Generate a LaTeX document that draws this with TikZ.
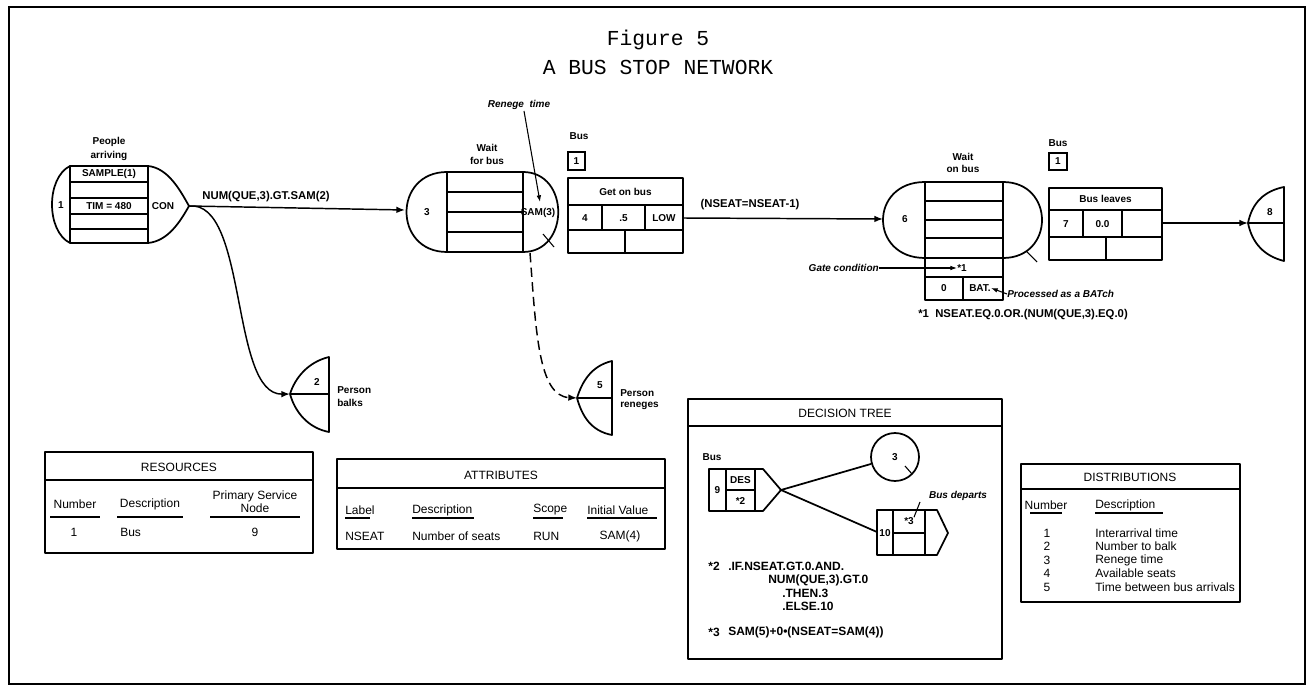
\documentclass[tikz,border=0pt]{standalone}
\usepackage{fontspec}
\setmainfont{Liberation Sans}
\newfontfamily\typefont{Liberation Mono}
\usetikzlibrary{arrows.meta}

\begin{document}
\begin{tikzpicture}[x=0.75pt,y=0.75pt,yscale=-1,xscale=1,
  every node/.style={inner sep=0pt},
  lbl/.style={font=\fontsize{7.5}{9}\selectfont\bfseries},
  cond/.style={font=\fontsize{8.5}{10}\selectfont\bfseries},
  note/.style={font=\fontsize{7.5}{9}\selectfont\bfseries\itshape},
  code/.style={font=\fontsize{9}{10}\selectfont\bfseries},
  cell/.style={font=\fontsize{9}{10}\selectfont},
  dist/.style={font=\fontsize{9}{10}\selectfont},
  head/.style={font=\fontsize{9}{10}\selectfont},
  outline/.style={line width=1.3pt,line join=round},
  flow/.style={line width=1.1pt,-{Latex[length=6.5pt,width=5pt]}},
  uline/.style={line width=0.9pt}
]
\useasboundingbox (0,0) rectangle (1316,691);
\fill [white] (0,0) rectangle (1316,691);
\draw [line width=0.8pt] (9,7) rectangle (1305,684);

% title
\node [font=\typefont\fontsize{16}{19}\selectfont] (figno) at (658,40) {Figure 5};
\node [font=\typefont\fontsize{16}{19}\selectfont] (figtitle) at (658,67) {A BUS STOP NETWORK};

% create node 1
\draw [outline] (70,166) rectangle (148,243);
\draw [outline] (70,166) .. controls (46,178) and (46,231) .. (70,243);
\draw [outline] (148,166) .. controls (168,168) and (180,190) .. (189,206) .. controls (180,222) and (168,241) .. (148,243);
\draw [thick] (70,182) -- (148,182);
\draw [thick] (70,198) -- (148,198);
\draw [thick] (70,214) -- (148,214);
\draw [thick] (70,229) -- (148,229);
\coordinate (c1tip) at (189,206);
\node [lbl] (c1ppl) at (109,142) {People};
\node [lbl] (c1arr) at (109,156) {arriving};
\node [lbl] (c1num) at (61,205) {1};
\node [lbl] (c1samp) at (109,174) {SAMPLE(1)};
\node [lbl] (c1tim) at (109,206) {TIM = 480};
\node [lbl] (c1con) at (163,206) {CON};

% queue node 3
\draw [outline] (447,172) .. controls (393,172) and (393,252) .. (447,252);
\draw [outline] (447,172) rectangle (523,252);
\draw [outline] (523,172) .. controls (570,172) and (570,252) .. (523,252);
\draw [thick] (447,192) -- (523,192);
\draw [thick] (447,212) -- (523,212);
\draw [thick] (447,232) -- (523,232);
\draw [thick] (543,234) -- (554,247);
\coordinate (q3in) at (405,210);
\coordinate (q3out) at (530,253);
\node [lbl] (q3wait) at (487,148) {Wait};
\node [lbl] (q3for) at (487,161) {for bus};
\node [lbl] (q3num) at (427,212) {3};
\node [lbl] (q3sam) at (538,213) {SAM(3)};
\node [note] (renege) at (519,105) {Renege\ \ time};
\coordinate (renegetip) at (540,202);
\draw [line width=0.8pt,-{Latex[length=5pt,width=3.5pt]}] (524,111) -- (renegetip);

% bus resource and activity 4
\node [lbl] (bus1) at (579,136) {Bus};
\node [lbl,draw,line width=1.3pt,minimum width=13pt,minimum height=13pt] (res1) at (576.5,161) {1};
\draw [outline] (568,178) rectangle (683,253);
\draw [thick] (568,205) -- (683,205);
\draw [thick] (568,230) -- (683,230);
\draw [thick] (602,205) -- (602,230);
\draw [thick] (645,205) -- (645,230);
\draw [thick] (625,230) -- (625,253);
\node [lbl] (act4name) at (625.5,192) {Get on bus};
\node [lbl] (act4num) at (585,218) {4};
\node [lbl] (act4dur) at (623.5,218) {.5};
\node [lbl] (act4rule) at (664,218) {LOW};
\coordinate (act4out) at (683,218);

% queue node 6
\draw [outline] (925,182) .. controls (869,182) and (869,258) .. (925,258);
\draw [outline] (925,182) rectangle (1003,258);
\draw [outline] (1003,182) .. controls (1055,182) and (1055,258) .. (1003,258);
\draw [thick] (925,201) -- (1003,201);
\draw [thick] (925,220) -- (1003,220);
\draw [thick] (925,238) -- (1003,238);
\draw [outline] (925,258) rectangle (1003,300);
\draw [thick] (925,277) -- (1003,277);
\draw [thick] (963,277) -- (963,300);
\draw [thick] (1026,251) -- (1037,262);
\coordinate (q6in) at (883,219);
\node [lbl] (q6wait) at (963,157) {Wait};
\node [lbl] (q6on) at (963,169) {on bus};
\node [lbl] (q6num) at (905,219) {6};
\node [lbl] (gatestar) at (962,268) {*1};
\node [lbl] (q6zero) at (944,288) {0};
\node [lbl] (q6bat) at (980,288) {BAT.};
\node [note,anchor=east] (gate) at (879,268) {Gate condition};
\node [note,anchor=west] (batch) at (1007,294) {Processed as a BATch};
\draw [line width=0.8pt,-{Latex[length=5pt,width=3.5pt]}] (gate.east) -- (gatestar.west);
\draw [line width=0.8pt,-{Latex[length=5pt,width=3.5pt]}] (batch.west) -- (q6bat.east);
\node [cond,anchor=west] (gatenote) at (918,315) {*1\ \ NSEAT.EQ.0.OR.(NUM(QUE,3).EQ.0)};

% bus resource and activity 7
\node [lbl] (bus2) at (1058,143) {Bus};
\node [lbl,draw,line width=1.3pt,minimum width=13pt,minimum height=13pt] (res2) at (1058,161.5) {1};
\draw [outline] (1049,188) rectangle (1162,260);
\draw [thick] (1049,210) -- (1162,210);
\draw [thick] (1049,237) -- (1162,237);
\draw [thick] (1083,210) -- (1083,237);
\draw [thick] (1122,210) -- (1122,237);
\draw [thick] (1106,237) -- (1106,260);
\node [lbl] (act7name) at (1105.5,199) {Bus leaves};
\node [lbl] (act7num) at (1066,224) {7};
\node [lbl] (act7dur) at (1102.5,224) {0.0};
\coordinate (act7out) at (1162,223);

% sink nodes 2, 5 and 8
\coordinate (s2tip) at (290,394);
\draw [outline] (329,357) .. controls (308,362) and (295,378) .. (s2tip) .. controls (295,412) and (308,428) .. (329,432) -- cycle;
\draw [thick] (s2tip) -- (329,394);
\node [lbl] (s2num) at (317,382) {2};
\node [lbl,anchor=west] (s2a) at (337,390) {Person};
\node [lbl,anchor=west] (s2b) at (337,403) {balks};

\coordinate (s5tip) at (577,398);
\draw [outline] (612,361) .. controls (591,366) and (582,382) .. (s5tip) .. controls (582,416) and (591,431) .. (612,435) -- cycle;
\draw [thick] (s5tip) -- (612,398);
\node [lbl] (s5num) at (600,385) {5};
\node [lbl,anchor=west] (s5a) at (620,393) {Person};
\node [lbl,anchor=west] (s5b) at (620,406) {reneges};

\coordinate (s8tip) at (1248,223);
\draw [outline] (1284,187) .. controls (1264,191) and (1252,203) .. (s8tip) .. controls (1252,243) and (1264,256) .. (1284,261) -- cycle;
\draw [thick] (s8tip) -- (1284,223);
\node [lbl] (s8num) at (1270,212) {8};

% branches
\draw [flow] (c1tip) -- (q3in);
\node [cond] (balk) at (266,197) {NUM(QUE,3).GT.SAM(2)};
\draw [flow] (c1tip) .. controls (248,200) and (230,395) .. (s2tip);
\draw [flow,dash pattern=on 7pt off 4pt] (q3out) .. controls (536,330) and (538,396) .. (s5tip);
\draw [flow] (act4out) -- (q6in);
\node [cond] (seats) at (750,205) {(NSEAT=NSEAT-1)};
\draw [flow] (act7out) -- (s8tip);

% resources
\draw [outline] (45,452) rectangle (313,553);
\draw [outline] (45,480) -- (313,480);
\node [head] (reshead) at (179,467) {RESOURCES};
\node [cell] (resnum) at (75,504) {Number};
\node [cell] (resdesc) at (150,504) {Description};
\node [cell] (resprim) at (255,496) {Primary Service};
\node [cell] (resnode) at (255,508) {Node};
\draw [uline] (50,517) -- (100,517);
\draw [uline] (117,517) -- (183,517);
\draw [uline] (210,517) -- (300,517);
\node [cell] (resone) at (74,532) {1};
\node [cell,anchor=west] (resbus) at (120,532) {Bus};
\node [cell] (resnine) at (255,532) {9};

% attributes
\draw [outline] (337,459) rectangle (665,549);
\draw [outline] (337,488) -- (665,488);
\node [head] (atthead) at (501,475) {ATTRIBUTES};
\node [cell,anchor=west] (attlab) at (345,510) {Label};
\node [cell,anchor=west] (attdesc) at (412,510) {Description};
\node [cell,anchor=west] (attscope) at (533,510) {Scope};
\node [cell,anchor=west] (attinit) at (587,510) {Initial Value};
\draw [uline] (345,518) -- (370,518);
\draw [uline] (412,518) -- (474,518);
\draw [uline] (533,518) -- (563,518);
\draw [uline] (587,518) -- (657,518);
\node [cell,anchor=west] (attnseat) at (345,536) {NSEAT};
\node [cell,anchor=west] (attseats) at (412,536) {Number of seats};
\node [cell,anchor=west] (attrun) at (533,536) {RUN};
\node [cell] (attsam) at (620,536) {SAM(4)};

% decision tree
\draw [outline] (688,399) rectangle (1002,659);
\draw [outline] (688,426) -- (1002,426);
\node [head] (dthead) at (845,413) {DECISION TREE};
\node [lbl] (dtbus) at (712,457) {Bus};
\draw [outline] (709,469) rectangle (755,511);
\draw [outline] (755,469) -- (763,469) -- (781,490) -- (763,511) -- (755,511);
\draw [thick] (726,469) -- (726,511);
\draw [thick] (726,490) -- (755,490);
\node [lbl] (d9num) at (717.5,490) {9};
\node [lbl] (d9des) at (740.5,480) {DES};
\node [lbl] (d9star) at (740.5,501) {*2};
\coordinate (d9tip) at (781,490);
\node [lbl,draw,circle,line width=1.3pt,minimum size=36] (d3) at (895,457) {3};
\draw [thick] (905,466) -- (912,474);
\draw [outline] (877,510) rectangle (925,555);
\draw [outline] (925,510) -- (937,510) -- (948,533) -- (937,555) -- (925,555);
\draw [thick] (893,510) -- (893,555);
\draw [thick] (893,533) -- (925,533);
\node [lbl] (d10num) at (885,533) {10};
\node [lbl] (d10star) at (909,521) {*3};
\coordinate (d10in) at (877,532);
\draw [line width=1.3pt] (d9tip) -- (d3);
\draw [line width=1.3pt] (d9tip) -- (d10in);
\node [note] (departs) at (958,496) {Bus departs};
\draw [line width=0.8pt] (920,502) -- (d10star.north east);
\node [code] (dtstar2) at (714,566) {*2};
\node [code,anchor=west] (dtif) at (728,566) {.IF.NSEAT.GT.0.AND.};
\node [code,anchor=west] (dtnum) at (768,580) {NUM(QUE,3).GT.0};
\node [code,anchor=west] (dtthen) at (782,593) {.THEN.3};
\node [code,anchor=west] (dtelse) at (782,606) {.ELSE.10};
\node [code] (dtstar3) at (714,632) {*3};
\node [code,anchor=west] (dtsam) at (728,632) {SAM(5)+0\textbullet(NSEAT=SAM(4))};

% distributions
\draw [outline] (1021,464) rectangle (1240,602);
\draw [outline] (1021,489) -- (1240,489);
\node [head] (disthead) at (1130,477) {DISTRIBUTIONS};
\node [dist] (distnum) at (1046,505) {Number};
\node [dist,anchor=west] (distdesc) at (1095,505) {Description};
\draw [uline] (1030,513) -- (1062,513);
\draw [uline] (1095,513) -- (1163,513);
\node [dist] (dn1) at (1047,533) {1};
\node [dist] (dn2) at (1047,546.5) {2};
\node [dist] (dn3) at (1047,560) {3};
\node [dist] (dn4) at (1047,573.5) {4};
\node [dist] (dn5) at (1047,587) {5};
\node [dist,anchor=west] (dd1) at (1095,533) {Interarrival time};
\node [dist,anchor=west] (dd2) at (1095,546.5) {Number to balk};
\node [dist,anchor=west] (dd3) at (1095,560) {Renege time};
\node [dist,anchor=west] (dd4) at (1095,573.5) {Available seats};
\node [dist,anchor=west] (dd5) at (1095,587) {Time between bus arrivals};

\end{tikzpicture}
\end{document}
